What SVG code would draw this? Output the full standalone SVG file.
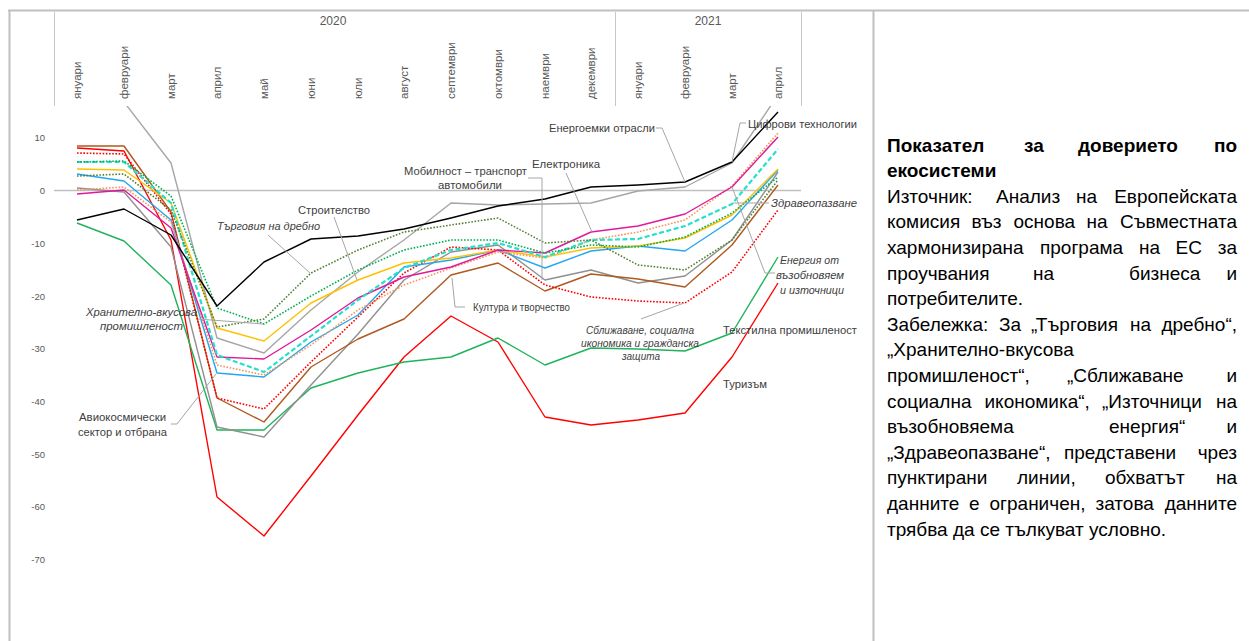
<svg xmlns="http://www.w3.org/2000/svg" width="1249" height="641" viewBox="0 0 1249 641">
<style>
  .frame{fill:none;stroke:#c0c0c0;stroke-width:2}
  .hdr{fill:none;stroke:#c8c8c8;stroke-width:1}
  .zero{fill:none;stroke:#c0c0c0;stroke-width:1.6}
  .mon{font-family:"Liberation Sans",Arial,sans-serif;font-size:11.5px;fill:#595959}
  .yr{font-family:"Liberation Sans",Arial,sans-serif;font-size:12px;fill:#595959;text-anchor:middle}
  .ax{font-family:"Liberation Sans",Arial,sans-serif;font-size:9.5px;fill:#595959;text-anchor:end}
  .s{fill:none;stroke-width:1.4;stroke-linejoin:round}
  .dot{stroke-dasharray:1.6 1.6;stroke-width:1.6}
  .dash{stroke-dasharray:5 2.5;stroke-width:2.2}
  .lead{fill:none;stroke:#a6a6a6;stroke-width:1}
  .lbl{font-family:"Liberation Sans",Arial,sans-serif;font-size:11px;fill:#404040}
  .it{font-style:italic}
  .sm{font-size:10px}
  .p{font-family:"Liberation Sans",Arial,sans-serif;font-size:19px;fill:#000}
  .b{font-weight:bold}
  .e{text-anchor:end}
</style>
<defs>
  <clipPath id="plot"><rect x="54" y="106" width="760" height="535"/></clipPath>
</defs>

<g id="frame">
  <line class="frame" x1="8" y1="10.5" x2="1249" y2="10.5"/>
  <line class="frame" x1="9.5" y1="10" x2="9.5" y2="641"/>
  <line class="frame" x1="873.5" y1="10" x2="873.5" y2="641"/>
</g>

<g id="header">
  <line class="hdr" x1="54.5" y1="12" x2="54.5" y2="106"/>
  <line class="hdr" x1="615.5" y1="12" x2="615.5" y2="106"/>
  <line class="hdr" x1="801.5" y1="12" x2="801.5" y2="106"/>
  <text class="yr" x="333" y="25">2020</text>
  <text class="yr" x="708" y="25">2021</text>
  <text class="mon" transform="translate(81,99) rotate(-90)">януари</text>
  <text class="mon" transform="translate(128,99) rotate(-90)">февруари</text>
  <text class="mon" transform="translate(175,99) rotate(-90)">март</text>
  <text class="mon" transform="translate(221,99) rotate(-90)">април</text>
  <text class="mon" transform="translate(268,99) rotate(-90)">май</text>
  <text class="mon" transform="translate(315,99) rotate(-90)">юни</text>
  <text class="mon" transform="translate(362,99) rotate(-90)">юли</text>
  <text class="mon" transform="translate(408,99) rotate(-90)">август</text>
  <text class="mon" transform="translate(455,99) rotate(-90)">септември</text>
  <text class="mon" transform="translate(502,99) rotate(-90)">октомври</text>
  <text class="mon" transform="translate(549,99) rotate(-90)">наември</text>
  <text class="mon" transform="translate(595,99) rotate(-90)">декември</text>
  <text class="mon" transform="translate(642,99) rotate(-90)">януари</text>
  <text class="mon" transform="translate(689,99) rotate(-90)">февруари</text>
  <text class="mon" transform="translate(736,99) rotate(-90)">март</text>
  <text class="mon" transform="translate(782,99) rotate(-90)">април</text>
</g>

<g id="axis">
  <line class="zero" x1="54" y1="190.5" x2="801" y2="190.5"/>
  <text class="ax" x="45" y="141">10</text>
  <text class="ax" x="45" y="194">0</text>
  <text class="ax" x="45" y="246.5">-10</text>
  <text class="ax" x="45" y="299.5">-20</text>
  <text class="ax" x="45" y="352">-30</text>
  <text class="ax" x="45" y="404.5">-40</text>
  <text class="ax" x="45" y="457.5">-50</text>
  <text class="ax" x="45" y="510">-60</text>
  <text class="ax" x="45" y="563">-70</text>
</g>

<g id="series" clip-path="url(#plot)">
  <polyline id="s-tourism" class="s" stroke="#ff0000" points="77,148 124,151 171,240 217,497 264,536 311,476 358,415 404,357 451,316 498,342 545,417 591,425 638,420 685,413 732,357 778,283"/>
  <polyline id="s-textile" class="s" stroke="#1fb35a" points="77,223 124,241 171,285 217,430 264,430 311,388 358,373 404,362 451,357 498,338 545,365 591,348 638,349 685,351 732,333 778,257"/>
  <polyline id="s-gray-a" class="s" stroke="#909090" points="77,188 124,192 171,247 217,427 264,437 311,385 358,334 404,280 451,252 498,245 545,280 591,270 638,283 685,276 732,240 778,172"/>
  <polyline id="s-gray-b" class="s" stroke="#a6a6a6" points="77,60 124,102 171,163 217,338 264,353 311,310 358,272 404,240 451,203 498,205 545,204 591,203 638,191 685,187 732,163 778,95"/>
  <polyline id="s-culture" class="s" stroke="#b0581e" points="77,146 124,146 171,212 217,398 264,422 311,367 358,339 404,319 451,275 498,263 545,291 591,274 638,279 685,287 732,245 778,185"/>
  <polyline id="s-proximity" class="s dot" stroke="#ff0000" points="77,153 124,154 171,214 217,398 264,409 311,362 358,317 404,273 451,247 498,250 545,285 591,297 638,301 685,303 732,272 778,210"/>
  <polyline id="s-aerospace" class="s" stroke="#22a7f0" points="77,174 124,181 171,220 217,373 264,377 311,342 358,315 404,267 451,260 498,250 545,268 591,251 638,246 685,251 732,220 778,170"/>
  <polyline id="s-renewables" class="s dot" stroke="#f7955a" points="77,190 124,187 171,222 217,365 264,375 311,345 358,310 404,285 451,268 498,252 545,258 591,240 638,232 685,220 732,186 778,133"/>
  <polyline id="s-construction" class="s" stroke="#ffc000" points="77,169 124,170 171,203 217,328 264,341 311,303 358,280 404,263 451,258 498,250 545,257 591,248 638,246 685,238 732,215 778,169"/>
  <polyline id="s-electronics" class="s" stroke="#e0189b" points="77,194 124,190 171,228 217,357 264,359 311,330 358,298 404,277 451,267 498,250 545,253 591,232 638,226 685,214 732,187 778,137"/>
  <polyline id="s-health" class="s dash" stroke="#26e0cc" points="77,162 124,162 171,203 217,355 264,372 311,336 358,300 404,268 451,250 498,243 545,257 591,240 638,239 685,226 732,204 778,149"/>
  <polyline id="s-agrifood" class="s dot" stroke="#00b050" points="77,162 124,161 171,196 217,308 264,324 311,296 358,270 404,250 451,240 498,240 545,253 591,245 638,247 685,237 732,213 778,177"/>
  <polyline id="s-retail" class="s dot" stroke="#548235" points="77,176 124,174 171,210 217,327 264,319 311,273 358,250 404,232 451,225 498,218 545,243 591,240 638,265 685,270 732,240 778,180"/>
  <polyline id="s-energy" class="s" stroke="#000000" points="77,220 124,209 171,235 217,306 264,262 311,239 358,236 404,229 451,218 498,206 545,199 591,187 638,185 685,182 732,162 778,112"/>
</g>

<g id="connectors">
  <polyline class="lead" points="656,128 662,128 685,182"/>
  <polyline class="lead" points="746,123 740,123 732,162"/>
  <polyline class="lead" points="528,178 542,178 542,280"/>
  <polyline class="lead" points="566,173 592,232"/>
  <polyline class="lead" points="334,217 357,280"/>
  <polyline class="lead" points="268,235 310,273"/>
  <polyline class="lead" points="198,319 263,324"/>
  <polyline class="lead" points="171,424 177,424 216,374"/>
  <polyline class="lead" points="465,307 455,307 452,278"/>
  <polyline class="lead" points="641,319 684,303"/>
  <polyline class="lead" points="769,203 733,203"/>
  <polyline class="lead" points="775,273 765,273 732,187"/>
</g>

<g id="lbl-energy"><text class="lbl" x="549" y="132" textLength="106" lengthAdjust="spacingAndGlyphs">Енергоемки отрасли</text></g>
<g id="lbl-digital"><text class="lbl" x="748" y="128" textLength="109" lengthAdjust="spacingAndGlyphs">Цифрови технологии</text></g>
<g id="lbl-mobility">
  <text class="lbl" x="404" y="175" textLength="123" lengthAdjust="spacingAndGlyphs">Мобилност – транспорт</text>
  <text class="lbl" x="438" y="189" textLength="64" lengthAdjust="spacingAndGlyphs">автомобили</text>
</g>
<g id="lbl-electronics"><text class="lbl" x="532" y="168" textLength="68" lengthAdjust="spacingAndGlyphs">Електроника</text></g>
<g id="lbl-construction"><text class="lbl" x="298" y="214" textLength="72" lengthAdjust="spacingAndGlyphs">Строителство</text></g>
<g id="lbl-retail"><text class="lbl it" x="217" y="230" textLength="103" lengthAdjust="spacingAndGlyphs">Търговия на дребно</text></g>
<g id="lbl-agrifood">
  <text class="lbl it" x="86" y="316" textLength="111" lengthAdjust="spacingAndGlyphs">Хранително-вкусова</text>
  <text class="lbl it" x="100" y="330" textLength="83" lengthAdjust="spacingAndGlyphs">промишленост</text>
</g>
<g id="lbl-aerospace">
  <text class="lbl" x="79" y="421" textLength="87" lengthAdjust="spacingAndGlyphs">Авиокосмически</text>
  <text class="lbl" x="78" y="436" textLength="89" lengthAdjust="spacingAndGlyphs">сектор и отбрана</text>
</g>
<g id="lbl-culture"><text class="lbl" x="473" y="311" textLength="97" lengthAdjust="spacingAndGlyphs">Култура и творчество</text></g>
<g id="lbl-proximity">
  <text class="lbl it sm" x="586" y="334" textLength="108" lengthAdjust="spacingAndGlyphs">Сближаване, социална</text>
  <text class="lbl it sm" x="581" y="347" textLength="118" lengthAdjust="spacingAndGlyphs">икономика и гражданска</text>
  <text class="lbl it sm" x="622" y="360" textLength="38" lengthAdjust="spacingAndGlyphs">защита</text>
</g>
<g id="lbl-textile"><text class="lbl" x="723" y="334" textLength="134" lengthAdjust="spacingAndGlyphs">Текстилна промишленост</text></g>
<g id="lbl-tourism"><text class="lbl" x="723" y="388" textLength="44" lengthAdjust="spacingAndGlyphs">Туризъм</text></g>
<g id="lbl-health"><text class="lbl it" x="771" y="207" textLength="86" lengthAdjust="spacingAndGlyphs">Здравеопазване</text></g>
<g id="lbl-renewables">
  <text class="lbl it" x="780" y="264" textLength="59" lengthAdjust="spacingAndGlyphs">Енергия от</text>
  <text class="lbl it" x="776" y="279" textLength="68" lengthAdjust="spacingAndGlyphs">възобновяем</text>
  <text class="lbl it" x="780" y="294" textLength="64" lengthAdjust="spacingAndGlyphs">и източници</text>
</g>

<g id="note">
  <text class="p b" x="887" y="151.5">Показател</text>
  <text class="p b" x="1024" y="151.5">за</text>
  <text class="p b" x="1078" y="151.5">доверието</text>
  <text class="p b e" x="1237" y="151.5">по</text>
  <text class="p b" x="887" y="177">екосистеми</text>

  <text class="p" x="887" y="202.5">Източник:</text>
  <text class="p" x="996" y="202.5">Анализ</text>
  <text class="p" x="1076" y="202.5">на</text>
  <text class="p e" x="1237" y="202.5">Европейската</text>

  <text class="p" x="887" y="228">комисия</text>
  <text class="p" x="971.5" y="228">въз</text>
  <text class="p" x="1013.5" y="228">основа</text>
  <text class="p" x="1086.5" y="228">на</text>
  <text class="p e" x="1237" y="228">Съвместната</text>

  <text class="p" x="887" y="254">хармонизирана</text>
  <text class="p" x="1040" y="254">програма</text>
  <text class="p" x="1139" y="254">на</text>
  <text class="p" x="1175.5" y="254">ЕС</text>
  <text class="p e" x="1237" y="254">за</text>

  <text class="p" x="887" y="279.5">проучвания</text>
  <text class="p" x="1033" y="279.5">на</text>
  <text class="p" x="1129" y="279.5">бизнеса</text>
  <text class="p e" x="1237" y="279.5">и</text>

  <text class="p" x="887" y="305">потребителите.</text>

  <text class="p" x="887" y="330.5">Забележка:</text>
  <text class="p" x="999" y="330.5">За</text>
  <text class="p" x="1031" y="330.5">„Търговия</text>
  <text class="p" x="1130" y="330.5">на</text>
  <text class="p e" x="1237" y="330.5">дребно“,</text>

  <text class="p" x="887" y="356">„Хранително-вкусова</text>

  <text class="p" x="887" y="382">промишленост“,</text>
  <text class="p" x="1067" y="382">„Сближаване</text>
  <text class="p e" x="1237" y="382">и</text>

  <text class="p" x="887" y="407.5">социална</text>
  <text class="p" x="984.5" y="407.5">икономика“,</text>
  <text class="p" x="1102" y="407.5">„Източници</text>
  <text class="p e" x="1237" y="407.5">на</text>

  <text class="p" x="887" y="433">възобновяема</text>
  <text class="p" x="1109" y="433">енергия“</text>
  <text class="p e" x="1237" y="433">и</text>

  <text class="p" x="887" y="458.5">„Здравеопазване“,</text>
  <text class="p" x="1064" y="458.5">представени</text>
  <text class="p e" x="1237" y="458.5">чрез</text>

  <text class="p" x="887" y="484">пунктирани</text>
  <text class="p" x="1017" y="484">линии,</text>
  <text class="p" x="1105" y="484">обхватът</text>
  <text class="p e" x="1237" y="484">на</text>

  <text class="p" x="887" y="510">данните</text>
  <text class="p" x="969" y="510">е</text>
  <text class="p" x="989.5" y="510">ограничен,</text>
  <text class="p" x="1095.5" y="510">затова</text>
  <text class="p e" x="1237" y="510">данните</text>

  <text class="p" x="887" y="535.5">трябва да се тълкуват условно.</text>
</g>
</svg>
